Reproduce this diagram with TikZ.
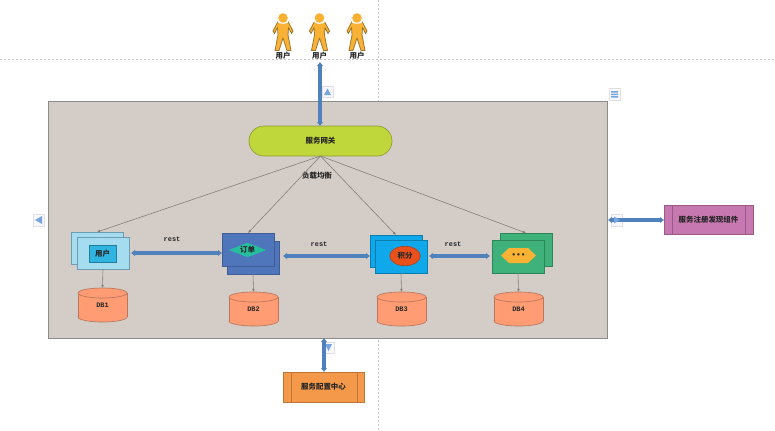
\documentclass[tikz,border=0pt]{standalone}
\usepackage{fontspec}
\newfontfamily\cjk{Noto Sans CJK SC}
\newfontfamily\lat{Liberation Mono}
\usetikzlibrary{arrows.meta,shapes.geometric}
\definecolor{framefill}{HTML}{D3CCC7}
\definecolor{frameline}{HTML}{8C8C88}
\definecolor{gwfill}{HTML}{BFD73A}
\definecolor{gwline}{HTML}{8E9E35}
\definecolor{lblue}{HTML}{A6DCEF}
\definecolor{lblueline}{HTML}{6B9DB5}
\definecolor{cyanin}{HTML}{2FB5E0}
\definecolor{mblue}{HTML}{4F76BB}
\definecolor{teal}{HTML}{25BFA0}
\definecolor{bblue}{HTML}{0FA8EA}
\definecolor{redo}{HTML}{E8501C}
\definecolor{grn}{HTML}{3FB17A}
\definecolor{yel}{HTML}{F9B233}
\definecolor{pink}{HTML}{C878B0}
\definecolor{pinkl}{HTML}{9A5A88}
\definecolor{org}{HTML}{F4994A}
\definecolor{orgl}{HTML}{BB7638}
\definecolor{dbf}{HTML}{FF9C73}
\definecolor{dbl}{HTML}{B8775C}
\definecolor{arr}{HTML}{4F81BD}
\definecolor{thin}{HTML}{84807C}
\tikzset{
  px/.style={x=0.75pt,y=-0.75pt},
  cjklabel/.style={font=\cjk\bfseries\fontsize{5.6pt}{7pt}\selectfont,text=black!85,inner sep=0pt},
  latlabel/.style={font=\lat\bfseries\fontsize{5.2pt}{6pt}\selectfont,text=black!85,inner sep=0pt},
  bx/.style={inner sep=0pt,outer sep=0pt,rectangle,draw=#1,line width=0.5pt},
  thick arrow/.style={draw=arr,line width=2.4pt,{Latex[length=3pt,width=5.2pt]}-{Latex[length=3pt,width=5.2pt]}},
  thin arrow/.style={draw=thin,line width=0.45pt,-{Latex[length=2.4pt,width=2.2pt]}},
  guide/.style={draw=black!22,line width=0.5pt,dash pattern=on 1.5pt off 1.5pt},
  icon/.style={bx=black!12,fill=blue!3},
  icontip/.style={fill=cyan!55!blue!55},
  personfill/.style={fill=yel,draw=black!35!yel!85!gray,line width=0.6pt}
}
% name, style, x1, y1, x2, y2, text
\newcommand\pbox[7]{%
  \pgfmathsetmacro\pw{(#5-#3)*0.75}%
  \pgfmathsetmacro\ph{(#6-#4)*0.75}%
  \pgfmathsetmacro\pcx{(#3+#5)/2}%
  \pgfmathsetmacro\pcy{(#4+#6)/2}%
  \node[#2,minimum width=\pw pt,minimum height=\ph pt] (#1) at (\pcx,\pcy) {#7};}
% name, x1, y1, text  (cylinder 49 x 34)
\newcommand\dbcyl[4]{%
  \pgfmathsetmacro\dcx{#2+24.5}%
  \pgfmathsetmacro\dtop{#3+5}%
  \pgfmathsetmacro\dbot{#3+29}%
  \draw[fill=dbf,draw=dbl,line width=0.5pt] (\dcx,\dbot) ellipse [x radius=24.5,y radius=5];
  \fill[dbf] (#2,\dtop) rectangle (#2+49,\dbot);
  \draw[dbl,line width=0.5pt] (#2,\dtop) -- (#2,\dbot) (#2+49,\dtop) -- (#2+49,\dbot);
  \draw[fill=dbf,draw=dbl,line width=0.5pt] (\dcx,\dtop) ellipse [x radius=24.5,y radius=5];
  \node[inner sep=0pt,minimum width=36.75pt,minimum height=25.5pt,latlabel] (#1) at (\dcx,#3+17) {#4};}
\newcommand\person[2]{%
  \begin{scope}[shift={(#1,0)}]
    \draw[personfill,line join=round] (-5,21.5) -- (5,21.5) -- (10,31) -- (8.5,33.5) -- (5.5,27.5) -- (5,35) -- (8,50.5) -- (4,50.5) -- (0,38) -- (-4,50.5) -- (-8,50.5) -- (-5,35) -- (-5.5,27.5) -- (-8.5,33.5) -- (-10,31) -- cycle;
    \fill[white] (0,21.5) ellipse [x radius=5.5,y radius=2.3];
    \fill[yel] (0,18) circle [radius=4.8];
  \end{scope}
  \node[cjklabel] (#2) at (#1,56) {用户};}
\begin{document}
\begin{tikzpicture}[px]
\useasboundingbox (0,0) rectangle (775,430);
\fill[white] (0,0) rectangle (775,430);
% page guides
\coordinate (gl) at (0,59.5); \coordinate (gr) at (775,59.5);
\coordinate (gt) at (378,0); \coordinate (gb) at (378,430);
\draw[guide] (gl) -- (gr);
\draw[guide] (gt) -- (gb);
% frame
\pbox{frame}{bx=frameline,fill=framefill}{48}{101}{607}{338}{}
% users
\person{283}{u1}
\person{319.5}{u2}
\person{357}{u3}
% gateway
\pbox{gw}{bx=gwline,fill=gwfill,rounded corners=11.2pt,cjklabel}{249}{126}{392}{156}{服务网关}
\node[cjklabel] (lb) at (317,176) {负载均衡};
% user service
\pbox{ua}{bx=lblueline,fill=lblue}{71}{232}{123}{264}{}
\pbox{ub}{bx=lblueline,fill=lblue}{77}{237}{129}{269}{}
\pbox{ui}{bx=cyanin!70!black,fill=cyanin,cjklabel}{89}{245}{116}{262}{用户}
% order service
\pbox{ob}{bx=mblue!80!black,fill=mblue}{227}{241}{279}{274}{}
\pbox{oa}{bx=mblue!80!black,fill=mblue}{222}{233}{274}{266}{}
\node[diamond,fill=teal,inner sep=0pt,minimum width=28pt,minimum height=11pt,aspect=2.6,cjklabel] (oi) at (247.5,250) {订单};
% points service
\pbox{pa}{bx=bblue!75!black,fill=bblue}{370}{235}{422}{267}{}
\pbox{pb}{bx=bblue!75!black,fill=bblue}{375}{240}{427}{273}{}
\node[ellipse,fill=redo,draw=redo!75!black,line width=0.4pt,inner sep=0pt,minimum width=23pt,minimum height=14.5pt,cjklabel] (pi) at (405,256) {积分};
% other service
\pbox{ea}{bx=grn!75!black,fill=grn}{500}{233}{552}{266}{}
\pbox{eb}{bx=grn!75!black,fill=grn}{492}{240}{544}{273}{}
\fill[yel] (501,255.5) -- (509,248) -- (528,248) -- (536,255.5) -- (528,263) -- (509,263) -- cycle;
\node[inner sep=0pt,latlabel,font=\lat\bfseries\fontsize{6pt}{7pt}\selectfont] (ei) at (518.5,255.5) {\textbullet\textbullet\textbullet};
% databases
\dbcyl{d1}{78}{288}{DB1}
\dbcyl{d2}{229}{292}{DB2}
\dbcyl{d3}{377}{292}{DB3}
\dbcyl{d4}{494}{292}{DB4}
% thin connectors
\draw[thin arrow] (gw.south) -- (ua.north);
\draw[thin arrow] (gw.south) -- (oa.north);
\draw[thin arrow] (gw.south) -- (pa.north);
\draw[thin arrow] (gw.south) -- (ea.north);
\draw[thin arrow] (ub.south) -- (d1.north |- 0,288);
\draw[thin arrow] (ob.south) -- (d2.north |- 0,292);
\draw[thin arrow] (pb.south) -- (d3.north |- 0,292);
\draw[thin arrow] (eb.south) -- (d4.north |- 0,292);
% rest connectors
\draw[thick arrow] ([xshift=1.5pt]ub.east |- 0,253) -- (oa.west |- 0,253);
\draw[thick arrow] ([xshift=3pt]ob.east |- 0,256) -- (pa.west |- 0,256);
\draw[thick arrow] ([xshift=1.5pt]pb.east |- 0,256) -- ([xshift=-1.5pt]eb.west |- 0,256);
\node[latlabel] (r1) at (172,239.5) {rest};
\node[latlabel] (r2) at (319,244) {rest};
\node[latlabel] (r3) at (453,244) {rest};
% external components
\pbox{reg}{bx=pinkl,fill=pink,cjklabel}{664}{205}{753}{234}{服务注册发现组件}
\draw[pinkl,line width=0.5pt] (672,205) -- (672,234) (745,205) -- (745,234);
\pbox{cfg}{bx=orgl,fill=org,cjklabel}{283}{372}{364}{402}{服务配置中心}
\draw[orgl,line width=0.5pt] (291,372) -- (291,402) (357,372) -- (357,402);
% editor handles
\pbox{hT}{icon}{322}{86}{333}{97}{}
\fill[icontip] (324,95) -- (327.5,88.5) -- (331,95) -- cycle;
\pbox{hM}{icon}{609}{88}{620}{100}{}
\fill[icontip] (611,91) rectangle (618,92.5) (611,93.5) rectangle (618,95) (611,96) rectangle (618,97.5);
\pbox{hL}{icon}{33}{214}{44}{226}{}
\fill[icontip] (35,220) -- (42,216) -- (42,224) -- cycle;
\pbox{hB}{icon}{323}{342}{334}{353}{}
\fill[icontip] (325,344) -- (332,344) -- (328.5,351) -- cycle;
\pbox{hR}{icon}{611}{214}{622}{226}{}
% long connectors
\coordinate (topend) at (320,62);
\coordinate (botend) at (324,338);
\coordinate (rgtend) at (608,220);
\draw[thick arrow] (topend) -- (gw.north -| topend);
\draw[thick arrow] (botend) -- (cfg.north -| botend);
\draw[thick arrow] (rgtend) -- (reg.west |- rgtend);
\fill[icontip] (614,216.5) -- (620,220) -- (614,223.5) -- cycle;
\end{tikzpicture}
\end{document}
